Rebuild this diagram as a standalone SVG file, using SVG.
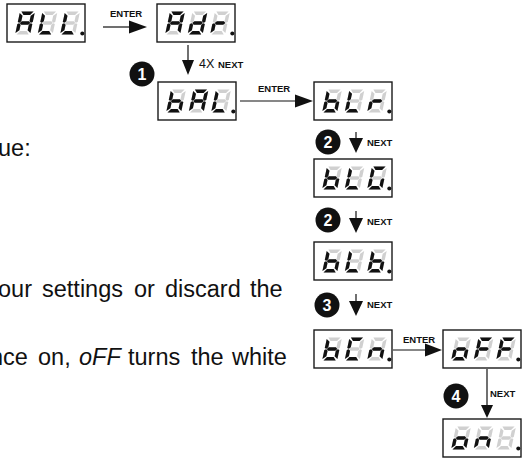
<svg xmlns="http://www.w3.org/2000/svg" xmlns:xlink="http://www.w3.org/1999/xlink" width="524" height="460" viewBox="0 0 524 460">
<style>
.box{fill:#fff;stroke:#1a1a1a;stroke-width:1.4}
.off{fill:#d0d0d0}
.on{fill:#111}
.dot{fill:#111}
.ln{stroke:#111;stroke-width:1.2;fill:none}
.ah{fill:#111}
.lbl{font-family:"Liberation Sans",Arial,sans-serif;font-weight:bold;font-size:9.5px;fill:#111}
.cnt{font-family:"Liberation Sans",Arial,sans-serif;font-size:12.5px;fill:#111}
.body{font-family:"Liberation Sans",Arial,sans-serif;font-size:23.5px;fill:#111}
.num{fill:#111}
.numt{font-family:"Liberation Sans",Arial,sans-serif;font-weight:bold;font-size:16px;fill:#fff;text-anchor:middle}
</style>
<defs>
<polygon id="sa" points="1.4,0 13.6,0 10.8,3.4 4.2,3.4"/>
<polygon id="sb" points="15,1.4 11.6,4.2 11.6,9.8 13.3,11.2 15,10.4"/>
<polygon id="sc" points="15,12.6 13.3,11.8 11.6,13.2 11.6,18.8 15,21.6"/>
<polygon id="sd" points="1.4,23 13.6,23 10.8,19.6 4.2,19.6"/>
<polygon id="se" points="0,12.6 1.7,11.8 3.4,13.2 3.4,18.8 0,21.6"/>
<polygon id="sf" points="0,1.4 3.4,4.2 3.4,9.8 1.7,11.2 0,10.4"/>
<polygon id="sg" points="2.2,11.5 4,9.8 11,9.8 12.8,11.5 11,13.2 4,13.2"/>
<g id="d8" class="off"><use href="#sa"/><use href="#sb"/><use href="#sc"/><use href="#sd"/><use href="#se"/><use href="#sf"/><use href="#sg"/></g>
<g id="LA"><use href="#d8"/><g class="on"><use href="#sa"/><use href="#sb"/><use href="#sc"/><use href="#se"/><use href="#sf"/><use href="#sg"/></g></g>
<g id="LL"><use href="#d8"/><g class="on"><use href="#sd"/><use href="#se"/><use href="#sf"/></g></g>
<g id="Ld"><use href="#d8"/><g class="on"><use href="#sb"/><use href="#sc"/><use href="#sd"/><use href="#se"/><use href="#sg"/></g></g>
<g id="Lr"><use href="#d8"/><g class="on"><use href="#se"/><use href="#sg"/></g></g>
<g id="Lb"><use href="#d8"/><g class="on"><use href="#sc"/><use href="#sd"/><use href="#se"/><use href="#sf"/><use href="#sg"/></g></g>
<g id="LG"><use href="#d8"/><g class="on"><use href="#sa"/><use href="#sc"/><use href="#sd"/><use href="#se"/><use href="#sf"/></g></g>
<g id="LC"><use href="#d8"/><g class="on"><use href="#sa"/><use href="#sd"/><use href="#se"/><use href="#sf"/></g></g>
<g id="Ln"><use href="#d8"/><g class="on"><use href="#sc"/><use href="#se"/><use href="#sg"/></g></g>
<g id="Lo"><use href="#d8"/><g class="on"><use href="#sc"/><use href="#sd"/><use href="#se"/><use href="#sg"/></g></g>
<g id="LF"><use href="#d8"/><g class="on"><use href="#sa"/><use href="#se"/><use href="#sf"/><use href="#sg"/></g></g>
<g id="Lblank"><use href="#d8"/></g>
</defs>

<g id="text">
<text class="body" x="-2" y="156">ue:</text>
<text class="body" y="297"><tspan x="-2">our</tspan><tspan x="42">settings</tspan><tspan x="134">or</tspan><tspan x="165">discard</tspan><tspan x="250">the</tspan></text>
<text class="body" y="365"><tspan x="-10">nce</tspan><tspan x="38">on,</tspan><tspan x="79" font-style="italic">oFF</tspan><tspan x="128">turns</tspan><tspan x="191">the</tspan><tspan x="232">white</tspan></text>
</g>

<g id="connectors">
<line class="ln" x1="103" y1="27" x2="131" y2="27"/>
<polygon class="ah" points="129,20.5 129,33.5 147,27"/>
<text class="lbl" x="110" y="17">ENTER</text>

<line class="ln" x1="188" y1="45" x2="188" y2="61"/>
<polygon class="ah" points="182,60 194,60 188,75"/>
<text class="cnt" x="199" y="68">4X</text>
<text class="lbl" x="218" y="68">NEXT</text>

<line class="ln" x1="240" y1="101" x2="297" y2="101"/>
<polygon class="ah" points="295,94.5 295,107.5 313,101"/>
<text class="lbl" x="258" y="92">ENTER</text>

<line class="ln" x1="356" y1="132" x2="356" y2="139"/>
<polygon class="ah" points="349,138 363,138 356,153"/>
<text class="lbl" x="367" y="146">NEXT</text>

<line class="ln" x1="356" y1="211" x2="356" y2="219"/>
<polygon class="ah" points="349,218 363,218 356,233"/>
<text class="lbl" x="367" y="225">NEXT</text>

<line class="ln" x1="356" y1="294" x2="356" y2="302"/>
<polygon class="ah" points="349,301 363,301 356,316"/>
<text class="lbl" x="367" y="308">NEXT</text>

<line class="ln" x1="393" y1="350" x2="427" y2="350"/>
<polygon class="ah" points="425,343.5 425,356.5 442,350"/>
<text class="lbl" x="403" y="343">ENTER</text>

<line class="ln" x1="487" y1="369" x2="487" y2="407"/>
<polygon class="ah" points="481,405 493,405 487,418"/>
<text class="lbl" x="490" y="397">NEXT</text>
</g>

<g id="step1"><circle class="num" cx="142" cy="74" r="12.5"/><text class="numt" x="142" y="80">1</text></g>
<g id="step2a"><circle class="num" cx="328" cy="142" r="12.5"/><text class="numt" x="328" y="148">2</text></g>
<g id="step2b"><circle class="num" cx="328" cy="220" r="12.5"/><text class="numt" x="328" y="226">2</text></g>
<g id="step3"><circle class="num" cx="327" cy="305" r="12.5"/><text class="numt" x="327" y="311">3</text></g>
<g id="step4"><circle class="num" cx="456" cy="396" r="12.5"/><text class="numt" x="456" y="402">4</text></g>

<g id="disp-ALL" transform="translate(7,4)">
<rect class="box" x="0" y="0" width="78" height="38"/>
<use href="#LA" transform="translate(13,7.5) skewX(-12)"/>
<use href="#LL" transform="translate(35.5,7.5) skewX(-12)"/>
<use href="#LL" transform="translate(58,7.5) skewX(-12)"/>
<circle class="dot" cx="75.3" cy="29.5" r="2"/>
</g>
<g id="disp-Adr" transform="translate(157,4)">
<rect class="box" x="0" y="0" width="78" height="38"/>
<use href="#LA" transform="translate(13,7.5) skewX(-12)"/>
<use href="#Ld" transform="translate(35.5,7.5) skewX(-12)"/>
<use href="#Lr" transform="translate(58,7.5) skewX(-12)"/>
<circle class="dot" cx="75.3" cy="29.5" r="2"/>
</g>
<g id="disp-bAL" transform="translate(158,82)">
<rect class="box" x="0" y="0" width="78" height="38"/>
<use href="#Lb" transform="translate(13,7.5) skewX(-12)"/>
<use href="#LA" transform="translate(35.5,7.5) skewX(-12)"/>
<use href="#LL" transform="translate(58,7.5) skewX(-12)"/>
<circle class="dot" cx="75.3" cy="29.5" r="2"/>
</g>
<g id="disp-bLr" transform="translate(314,82)">
<rect class="box" x="0" y="0" width="78" height="38"/>
<use href="#Lb" transform="translate(13,7.5) skewX(-12)"/>
<use href="#LL" transform="translate(35.5,7.5) skewX(-12)"/>
<use href="#Lr" transform="translate(58,7.5) skewX(-12)"/>
<circle class="dot" cx="75.3" cy="29.5" r="2"/>
</g>
<g id="disp-bLG" transform="translate(314,159)">
<rect class="box" x="0" y="0" width="78" height="38"/>
<use href="#Lb" transform="translate(13,7.5) skewX(-12)"/>
<use href="#LL" transform="translate(35.5,7.5) skewX(-12)"/>
<use href="#LG" transform="translate(58,7.5) skewX(-12)"/>
<circle class="dot" cx="75.3" cy="29.5" r="2"/>
</g>
<g id="disp-bLb" transform="translate(314,242)">
<rect class="box" x="0" y="0" width="78" height="38"/>
<use href="#Lb" transform="translate(13,7.5) skewX(-12)"/>
<use href="#LL" transform="translate(35.5,7.5) skewX(-12)"/>
<use href="#Lb" transform="translate(58,7.5) skewX(-12)"/>
<circle class="dot" cx="75.3" cy="29.5" r="2"/>
</g>
<g id="disp-bCn" transform="translate(314,330)">
<rect class="box" x="0" y="0" width="78" height="38"/>
<use href="#Lb" transform="translate(13,7.5) skewX(-12)"/>
<use href="#LC" transform="translate(35.5,7.5) skewX(-12)"/>
<use href="#Ln" transform="translate(58,7.5) skewX(-12)"/>
<circle class="dot" cx="75.3" cy="29.5" r="2"/>
</g>
<g id="disp-oFF" transform="translate(443,330)">
<rect class="box" x="0" y="0" width="78" height="38"/>
<use href="#Lo" transform="translate(13,7.5) skewX(-12)"/>
<use href="#LF" transform="translate(35.5,7.5) skewX(-12)"/>
<use href="#LF" transform="translate(58,7.5) skewX(-12)"/>
<circle class="dot" cx="75.3" cy="29.5" r="2"/>
</g>
<g id="disp-on" transform="translate(443,419)">
<rect class="box" x="0" y="0" width="78" height="38"/>
<use href="#Lo" transform="translate(13,7.5) skewX(-12)"/>
<use href="#Ln" transform="translate(35.5,7.5) skewX(-12)"/>
<use href="#Lblank" transform="translate(58,7.5) skewX(-12)"/>
<circle class="dot" cx="75.3" cy="29.5" r="2"/>
</g>
</svg>
